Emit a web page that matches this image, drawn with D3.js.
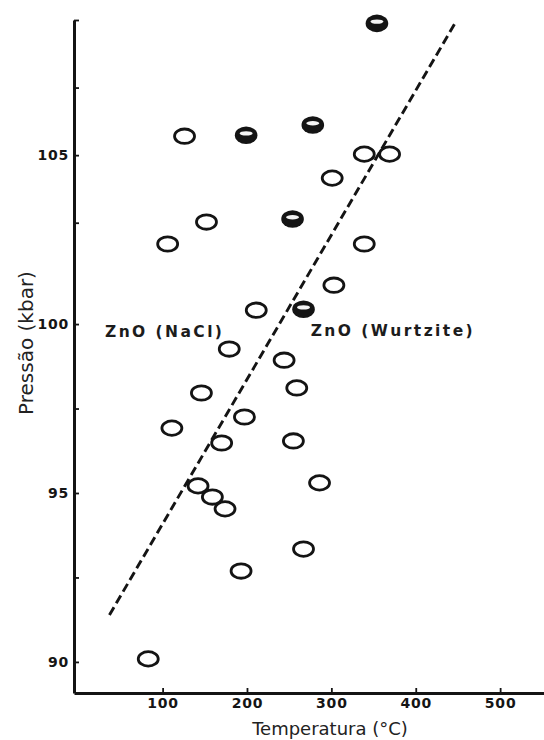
<!DOCTYPE html>
<html>
<head>
<meta charset="utf-8">
<script src="https://cdn.jsdelivr.net/npm/d3@7"></script>
<style>
  body { margin: 0; background: #fff; }
  svg { display: block; }
</style>
</head>
<body>
<svg id="chart" width="544" height="740"></svg>
<script>
// ZnO phase diagram: pressure (kbar) vs temperature (°C)

// open symbols: no transformation observed
const openTemp  = [126, 339, 369, 301, 152, 106, 339, 303, 211, 179, 244, 259, 146, 197, 111, 170, 255, 286, 142, 159, 174, 267, 193, 83];
const openPress = [105.56, 105.03, 105.03, 104.32, 103.02, 102.37, 102.37, 101.15, 100.41, 99.26, 98.93, 98.11, 97.96, 97.25, 96.92, 96.48, 96.54, 95.30, 95.21, 94.88, 94.53, 93.34, 92.69, 90.09];

// filled symbols: transformation observed
const filledTemp  = [354, 199, 278, 254, 267];
const filledPress = [108.9, 105.59, 105.89, 103.11, 100.44];

// phase boundary (dashed), end points
const boundaryTemp  = [37, 446];
const boundaryPress = [91.39, 108.88];

const xTicks = [100, 200, 300, 400, 500];
const yTicks = [90, 95, 100, 105];
const yMinorTicks = [92.5, 97.5, 103, 107, 109];

const phaseLabels = ["ZnO (NaCl)", "ZnO (Wurtzite)"];

const svg = d3.select("#chart");

const x = d3.scaleLinear().domain([-5, 552]).range([74, 544]);
const y = d3.scaleLinear().domain([89.08, 109]).range([693, 20]);

const ink = "#141414";
const tickFont = "DejaVu Sans";

// x axis
const gx = svg.append("g")
  .attr("transform", `translate(0,${y(89.08)})`)
  .call(d3.axisBottom(x).tickValues(xTicks).tickSize(-5).tickSizeOuter(0).tickPadding(5));

// y axis
const gy = svg.append("g")
  .attr("transform", `translate(${x(-5)},0)`)
  .call(d3.axisLeft(y).tickValues(yTicks).tickSize(-5).tickSizeOuter(0).tickPadding(5));

const gyMinor = svg.append("g")
  .attr("transform", `translate(${x(-5)},0)`)
  .call(d3.axisLeft(y).tickValues(yMinorTicks).tickSize(-5).tickSizeOuter(0).tickFormat(""));
gyMinor.select(".domain").remove();

[gx, gy, gyMinor].forEach(g => {
  g.selectAll(".domain").attr("stroke", ink).attr("stroke-width", 3);
  g.selectAll(".tick line").attr("stroke", ink).attr("stroke-width", 1.8);
  g.selectAll(".tick text")
    .attr("fill", "#151515")
    .attr("font-family", tickFont)
    .attr("font-weight", "bold")
    .attr("font-size", 14)
    .attr("letter-spacing", 0.8);
});

// phase boundary
const line = d3.line().x(d => x(d[0])).y(d => y(d[1]));
svg.append("path")
  .datum(d3.zip(boundaryTemp, boundaryPress))
  .attr("d", line)
  .attr("fill", "none")
  .attr("stroke", ink)
  .attr("stroke-width", 2.9)
  .attr("stroke-dasharray", "9,4.5");

// open markers
svg.append("g").selectAll("ellipse")
  .data(d3.zip(openTemp, openPress))
  .join("ellipse")
  .attr("cx", d => x(d[0]))
  .attr("cy", d => y(d[1]))
  .attr("rx", 10)
  .attr("ry", 7.2)
  .attr("fill", "#fff")
  .attr("stroke", ink)
  .attr("stroke-width", 2.8);

// filled markers
const filled = svg.append("g").selectAll("g")
  .data(d3.zip(filledTemp, filledPress))
  .join("g")
  .attr("transform", d => `translate(${x(d[0])},${y(d[1])})`);
filled.append("ellipse")
  .attr("rx", 11.3)
  .attr("ry", 8.8)
  .attr("fill", ink);
filled.append("ellipse")
  .attr("cy", -1.8)
  .attr("rx", 6.5)
  .attr("ry", 2.2)
  .attr("fill", "#f4f4f4");

// phase labels
svg.append("text")
  .attr("x", x(31.7)).attr("y", y(99.62))
  .attr("font-family", tickFont).attr("font-weight", "bold").attr("font-size", 15.5)
  .attr("fill", "#1c1c1c")
  .attr("textLength", 117).attr("lengthAdjust", "spacing")
  .text(phaseLabels[0]);
svg.append("text")
  .attr("x", x(275.5)).attr("y", y(99.65))
  .attr("font-family", tickFont).attr("font-weight", "bold").attr("font-size", 15.5)
  .attr("fill", "#1c1c1c")
  .attr("textLength", 162).attr("lengthAdjust", "spacing")
  .text(phaseLabels[1]);

// axis titles
svg.append("text")
  .attr("transform", "translate(26,343) rotate(-90)")
  .attr("text-anchor", "middle")
  .attr("dominant-baseline", "central")
  .attr("font-family", "DejaVu Sans").attr("font-size", 20)
  .attr("fill", "#222")
  .text("Pressão (kbar)");

svg.append("text")
  .attr("x", 330).attr("y", 735)
  .attr("text-anchor", "middle")
  .attr("font-family", "DejaVu Sans").attr("font-size", 18)
  .attr("fill", "#222")
  .text("Temperatura (°C)");
</script>
</body>
</html>
